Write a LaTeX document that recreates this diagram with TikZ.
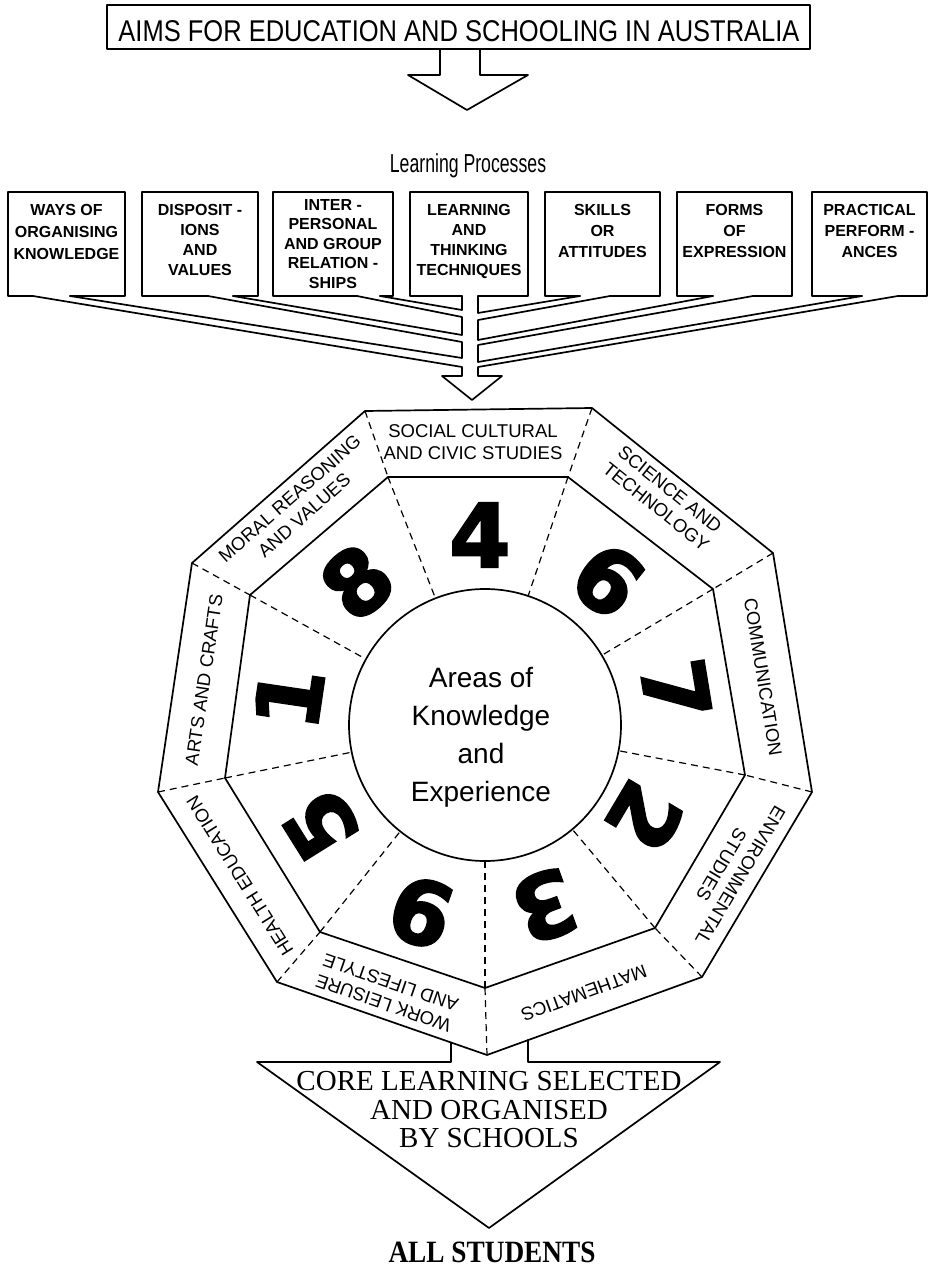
\documentclass[tikz,border=0pt]{standalone}
\usepackage{fontspec}
\usepackage{graphicx}
\setmainfont{Liberation Sans}
\newfontfamily\serfont{Liberation Serif}
\newfontfamily\digfont[FakeBold=2.5]{DejaVu Sans}
\usetikzlibrary{calc}
\tikzset{
  ln/.style={line width=1.7pt, line join=round, line cap=round},
  dsh/.style={line width=1.2pt, dash pattern=on 7pt off 5pt},
  seglbl/.style={font=\fontsize{18.5}{22}\selectfont, align=center, inner sep=0pt},
  digit/.style={font=\digfont\bfseries\fontsize{88}{88}\selectfont, inner sep=0pt},
  boxtxt/.style={font=\bfseries\fontsize{16}{20}\selectfont, align=center, inner sep=0pt, anchor=north},
}
\begin{document}
\begin{tikzpicture}[x=1pt,y=-1pt]
\useasboundingbox (0,0) rectangle (931,1271);

% ---------- title ----------
\draw[ln] (107,5) rectangle (810,49);
\node[font=\fontsize{30}{30}\selectfont, inner sep=0pt] (title) at (459,31)
  {\scalebox{0.85}[1]{AIMS FOR EDUCATION AND SCHOOLING IN AUSTRALIA}};
\coordinate (ta1) at (440,49);
\coordinate (ta2) at (480,49);
\draw[ln] (ta1) -- (440,75) -- (408,75) -- (467,110) -- (528,75) -- (480,75) -- (ta2);

\node[font=\fontsize{26}{26}\selectfont, inner sep=0pt] (lp) at (468,166)
  {\scalebox{0.68}[1]{Learning Processes}};

% ---------- process boxes ----------
\draw[ln] (33,296) -- (8,296) -- (8,192) -- (125,192) -- (125,296) -- (70,296);
\draw[ln] (208,296) -- (142,296) -- (142,192) -- (258,192) -- (258,296) -- (233,296);
\draw[ln] (357,296) -- (273,296) -- (273,192) -- (393,192) -- (393,296) -- (380,296);
\draw[ln] (462,296) -- (410,296) -- (410,192) -- (528,192) -- (528,296) -- (478,296);
\draw[ln] (580,296) -- (545,296) -- (545,192) -- (660,192) -- (660,296) -- (610,296);
\draw[ln] (713,296) -- (677,296) -- (677,192) -- (792,192) -- (792,296) -- (753,296);
\draw[ln] (862,296) -- (812,296) -- (812,192) -- (927,192) -- (927,296) -- (898,296);

\node[boxtxt, font=\bfseries\fontsize{16}{22}\selectfont] (b1) at (66.5,204) {WAYS OF\\ORGANISING\\KNOWLEDGE};
\node[boxtxt] (b2) at (200,204) {DISPOSIT -\\IONS\\AND\\VALUES};
\node[boxtxt, font=\bfseries\fontsize{16}{19.5}\selectfont] (b3) at (333,199) {INTER -\\PERSONAL\\AND GROUP\\RELATION -\\SHIPS};
\node[boxtxt] (b4) at (469,204) {LEARNING\\AND\\THINKING\\TECHNIQUES};
\node[boxtxt, font=\bfseries\fontsize{16}{21}\selectfont] (b5) at (602.5,204) {SKILLS\\OR\\ATTITUDES};
\node[boxtxt, font=\bfseries\fontsize{16}{21}\selectfont] (b6) at (734.5,204) {FORMS\\OF\\EXPRESSION};
\node[boxtxt, font=\bfseries\fontsize{16}{21}\selectfont] (b7) at (869.5,204) {PRACTICAL\\PERFORM -\\ANCES};

% ---------- converging bands ----------
\draw[ln] (462,296) -- (462,310) -- (380,296);
\draw[ln] (357,296) -- (462,317) -- (462,335) -- (233,296);
\draw[ln] (208,296) -- (462,342) -- (462,358) -- (70,296);
\draw[ln] (33,296) -- (462,367) -- (462,376) -- (442,376) -- (472,400) -- (502,376)
  -- (478,376) -- (478,367) -- (898,296);
\draw[ln] (862,296) -- (478,362) -- (478,345) -- (753,296);
\draw[ln] (713,296) -- (478,340) -- (478,320) -- (610,296);
\draw[ln] (580,296) -- (478,313) -- (478,296);

% ---------- nonagon ----------
\coordinate (oTL) at (365,411);
\coordinate (oTR) at (592,408);
\coordinate (oR1) at (773,553);
\coordinate (oR2) at (812,792);
\coordinate (oR3) at (702,977);
\coordinate (oB)  at (487,1055);
\coordinate (oL3) at (277,982);
\coordinate (oL2) at (158,792);
\coordinate (oL1) at (192,563);
\coordinate (iTL) at (388,477);
\coordinate (iTR) at (568,477);
\coordinate (iR1) at (713,589);
\coordinate (iR2) at (745,775);
\coordinate (iR3) at (655,928);
\coordinate (iB)  at (485,988);
\coordinate (iL3) at (320,932);
\coordinate (iL2) at (225,778);
\coordinate (iL1) at (250,595);

\draw[ln] (oTL) -- (oTR) -- (oR1) -- (oR2) -- (oR3) -- (oB) -- (oL3) -- (oL2) -- (oL1) -- cycle;
\draw[ln] (iTL) -- (iTR) -- (iR1) -- (iR2) -- (iR3) -- (iB) -- (iL3) -- (iL2) -- (iL1) -- cycle;
\node[circle, draw, line width=1.7pt, minimum size=272pt, inner sep=0pt] (circ) at (485,725) {};

\foreach \v in {TL,TR,R1,R2,R3,B,L3,L2,L1}{
  \draw[dsh] (o\v) -- (i\v);
  \draw[dsh] (i\v) -- (circ);
}

\node[font=\fontsize{28}{38}\selectfont, align=center, inner sep=0pt] (areas) at (481,737)
  {Areas of\\Knowledge\\and\\Experience};

% ---------- segment labels ----------
\node[seglbl] (social) at (473,442) {SOCIAL CULTURAL\\AND CIVIC STUDIES};
\node[seglbl, rotate=-38.7] (science) at (663,498) {SCIENCE AND\\TECHNOLOGY};
\node[seglbl, rotate=-80.7] (comm) at (763,677) {COMMUNICATION};
\node[seglbl, rotate=-120.7] (env) at (731,870) {ENVIRONMENTAL\\STUDIES};
\node[seglbl, rotate=-160] (math) at (584,993) {MATHEMATICS};
\node[seglbl, rotate=160.8] (work) at (387,993) {WORK LEISURE\\AND LIFESTYLE};
\node[seglbl, rotate=122] (health) at (240,876) {HEALTH EDUCATION};
\node[seglbl, rotate=81.6] (arts) at (204,680) {ARTS AND CRAFTS};
\node[seglbl, rotate=41.3] (moral) at (297,507) {MORAL REASONING\\AND VALUES};

% ---------- digits ----------
\node[digit] (d4) at (480,535) {4};
\node[digit, rotate=-38.7] (d6) at (608,580) {6};
\node[digit, rotate=-80.7] (d7) at (676,690) {7};
\node[digit, rotate=-120.7] (d2) at (645,817) {2};
\node[digit, rotate=-160] (d3) at (545,906) {3};
\node[digit, rotate=160.8] (d9) at (421,912) {9};
\node[digit, rotate=122] (d5) at (321,825) {5};
\node[digit, rotate=81.6] (d1) at (289,698) {1};
\node[digit, rotate=41.3] (d8) at (357,582) {8};

% ---------- bottom arrow ----------
\coordinate (s1) at (451,1042.5);
\coordinate (s2) at (528,1040);
\draw[ln] (s1) -- (451,1062) -- (257,1062) -- (489,1228) -- (720,1062) -- (528,1062) -- (s2);
\node[font=\serfont\fontsize{29}{28.5}\selectfont, align=center, inner sep=0pt] (core) at (489,1110)
  {CORE LEARNING SELECTED\\AND ORGANISED\\BY SCHOOLS};
\node[font=\serfont\bfseries\fontsize{31}{31}\selectfont, inner sep=0pt] (all) at (492,1252)
  {\scalebox{0.88}[1]{ALL STUDENTS}};
\end{tikzpicture}
\end{document}
